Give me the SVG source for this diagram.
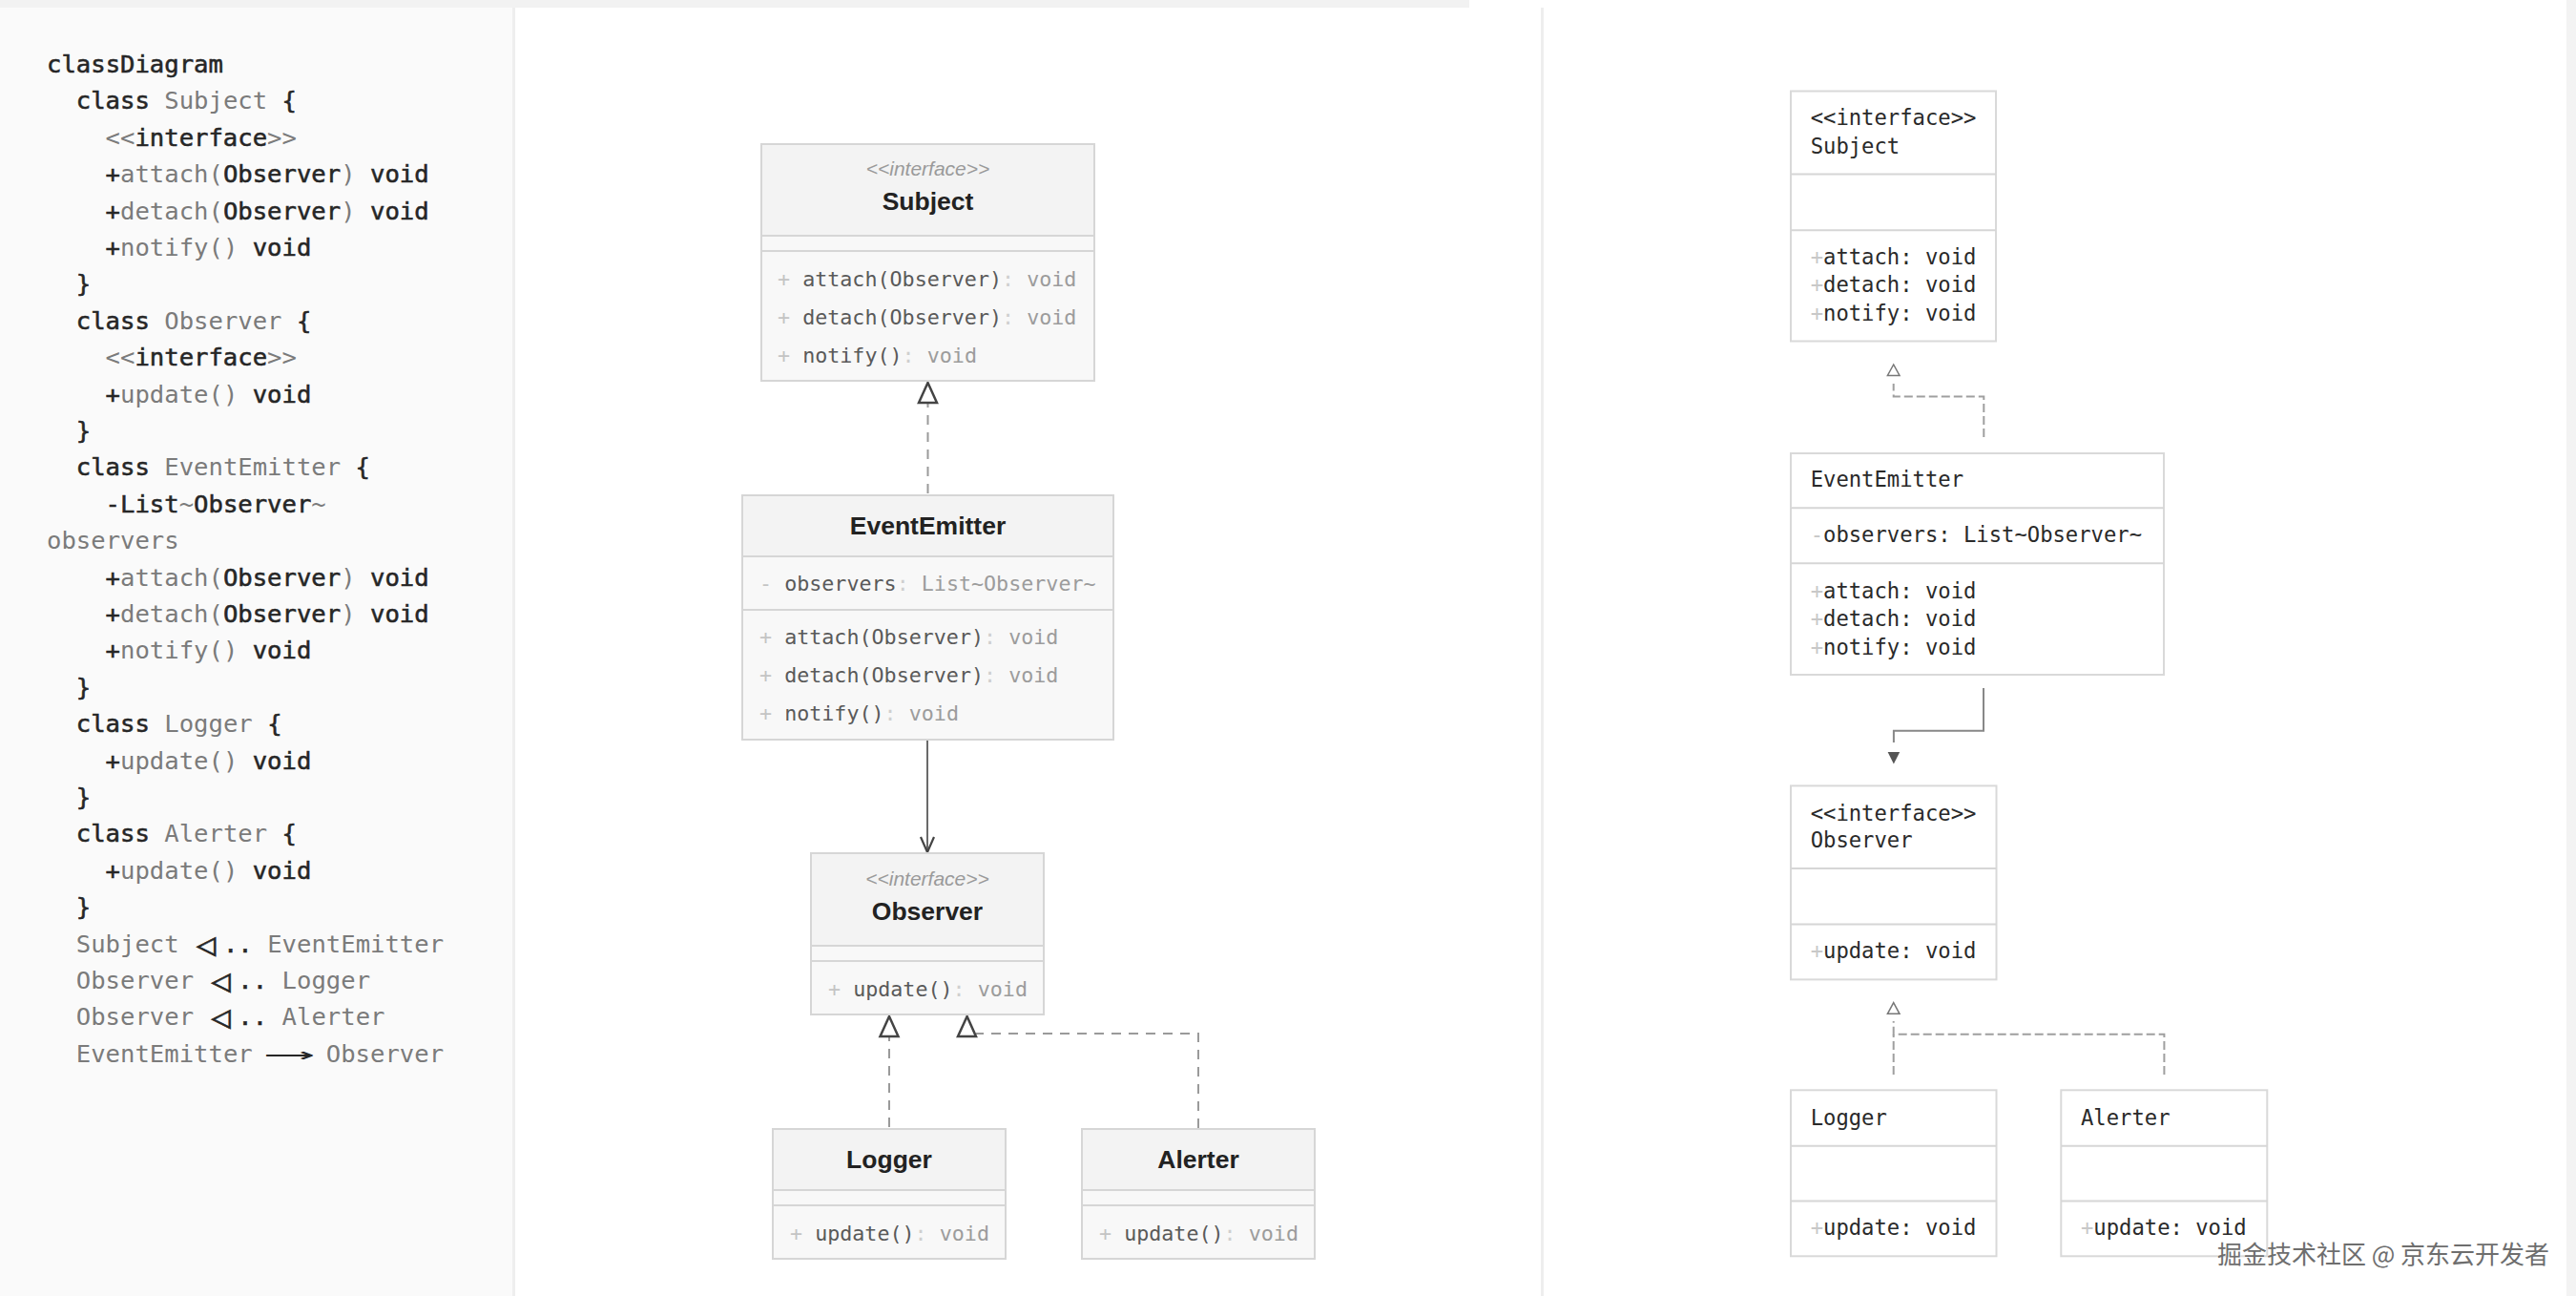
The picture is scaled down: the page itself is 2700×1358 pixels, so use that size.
<svg xmlns="http://www.w3.org/2000/svg" width="2700" height="1358" viewBox="0 0 2700 1358">
<style>
.code{font-family:"DejaVu Sans Mono","Liberation Mono",monospace;font-size:25.6px;dominant-baseline:central}
.d{fill:#262626;stroke:#262626;stroke-width:0.55px;font-weight:normal}
.g{fill:#7b7b7b;font-weight:normal}
.ar{fill:#262626;stroke:none}
.tr{font-size:34px}
.box{stroke:#d6d6d6;stroke-width:2}
.hd{fill:#f3f3f3}
.bd{fill:#f8f8f8}
.sep{stroke:#d6d6d6;stroke-width:2}
.ster{font-family:"Liberation Sans",Arial,sans-serif;font-style:italic;font-size:21px;fill:#9a9a9a;text-anchor:middle;dominant-baseline:central}
.nm{font-family:"Liberation Sans",Arial,sans-serif;font-weight:bold;font-size:26.5px;fill:#222;text-anchor:middle;dominant-baseline:central}
.mt{font-family:"DejaVu Sans Mono","Liberation Mono",monospace;font-size:21.7px;dominant-baseline:central}
.vis{fill:#c4c4c4}
.mn{fill:#5a5a5a}
.col{fill:#cfcfcf}
.ty{fill:#9c9c9c}
.rbox{fill:#fff;stroke:#d9d9d9;stroke-width:2}
.rt{font-family:"DejaVu Sans Mono","Liberation Mono",monospace;font-size:22.2px;fill:#2a2a2a;dominant-baseline:central}
.rv{fill:#c8c8c8}
.dash{fill:none;stroke:#9a9a9a;stroke-width:2;stroke-dasharray:10 8}
.rdash{fill:none;stroke:#9f9f9f;stroke-width:2;stroke-dasharray:9 4}
.tri{fill:#fff;stroke:#444;stroke-width:2.5;stroke-linejoin:miter}
.rtri{fill:#fff;stroke:#777;stroke-width:1.5}
</style>

<!-- backgrounds -->
<rect x="0" y="0" width="2700" height="1358" fill="#ffffff"/>
<rect x="0" y="0" width="1540" height="8" fill="#f2f2f2"/>
<rect x="0" y="8" width="538" height="1350" fill="#fafafa"/>
<rect x="537" y="8" width="3" height="1350" fill="#eeeeee"/>
<rect x="1615" y="8" width="3" height="1350" fill="#eeeeee"/>
<rect x="2690" y="0" width="10" height="1358" fill="#f3f3f3"/>

<!-- source code -->
<g id="code" class="code" xml:space="preserve">
<text x="49" y="67"><tspan class="d">classDiagram</tspan></text>
<text x="79.8" y="105.4"><tspan class="d">class </tspan><tspan class="g">Subject </tspan><tspan class="d">{</tspan></text>
<text x="110.6" y="143.8"><tspan class="g">&lt;&lt;</tspan><tspan class="d">interface</tspan><tspan class="g">&gt;&gt;</tspan></text>
<text x="110.6" y="182.2"><tspan class="d">+</tspan><tspan class="g">attach(</tspan><tspan class="d">Observer</tspan><tspan class="g">) </tspan><tspan class="d">void</tspan></text>
<text x="110.6" y="220.6"><tspan class="d">+</tspan><tspan class="g">detach(</tspan><tspan class="d">Observer</tspan><tspan class="g">) </tspan><tspan class="d">void</tspan></text>
<text x="110.6" y="259"><tspan class="d">+</tspan><tspan class="g">notify() </tspan><tspan class="d">void</tspan></text>
<text x="79.8" y="297.4"><tspan class="d">}</tspan></text>
<text x="79.8" y="335.8"><tspan class="d">class </tspan><tspan class="g">Observer </tspan><tspan class="d">{</tspan></text>
<text x="110.6" y="374.2"><tspan class="g">&lt;&lt;</tspan><tspan class="d">interface</tspan><tspan class="g">&gt;&gt;</tspan></text>
<text x="110.6" y="412.6"><tspan class="d">+</tspan><tspan class="g">update() </tspan><tspan class="d">void</tspan></text>
<text x="79.8" y="451"><tspan class="d">}</tspan></text>
<text x="79.8" y="489.4"><tspan class="d">class </tspan><tspan class="g">EventEmitter </tspan><tspan class="d">{</tspan></text>
<text x="110.6" y="527.8"><tspan class="d">-List</tspan><tspan class="g">~</tspan><tspan class="d">Observer</tspan><tspan class="g">~</tspan></text>
<text x="49" y="566.2"><tspan class="g">observers</tspan></text>
<text x="110.6" y="604.6"><tspan class="d">+</tspan><tspan class="g">attach(</tspan><tspan class="d">Observer</tspan><tspan class="g">) </tspan><tspan class="d">void</tspan></text>
<text x="110.6" y="643"><tspan class="d">+</tspan><tspan class="g">detach(</tspan><tspan class="d">Observer</tspan><tspan class="g">) </tspan><tspan class="d">void</tspan></text>
<text x="110.6" y="681.4"><tspan class="d">+</tspan><tspan class="g">notify() </tspan><tspan class="d">void</tspan></text>
<text x="79.8" y="719.8"><tspan class="d">}</tspan></text>
<text x="79.8" y="758.2"><tspan class="d">class </tspan><tspan class="g">Logger </tspan><tspan class="d">{</tspan></text>
<text x="110.6" y="796.6"><tspan class="d">+</tspan><tspan class="g">update() </tspan><tspan class="d">void</tspan></text>
<text x="79.8" y="835"><tspan class="d">}</tspan></text>
<text x="79.8" y="873.4"><tspan class="d">class </tspan><tspan class="g">Alerter </tspan><tspan class="d">{</tspan></text>
<text x="110.6" y="911.8"><tspan class="d">+</tspan><tspan class="g">update() </tspan><tspan class="d">void</tspan></text>
<text x="79.8" y="950.2"><tspan class="d">}</tspan></text>
<text x="79.8" y="988.6"><tspan class="g">Subject</tspan><tspan class="d tr" x="206">◁</tspan><tspan class="d" x="233.9">..</tspan><tspan class="g" x="280.2">EventEmitter</tspan></text>
<text x="79.8" y="1027"><tspan class="g">Observer</tspan><tspan class="d tr" x="221.4">◁</tspan><tspan class="d" x="249.3">..</tspan><tspan class="g" x="295.6">Logger</tspan></text>
<text x="79.8" y="1065.4"><tspan class="g">Observer</tspan><tspan class="d tr" x="221.4">◁</tspan><tspan class="d" x="249.3">..</tspan><tspan class="g" x="295.6">Alerter</tspan></text>
<text x="79.8" y="1103.8"><tspan class="g">EventEmitter</tspan><tspan class="ar" x="282" textLength="42" lengthAdjust="spacingAndGlyphs">⟶</tspan><tspan class="g" x="341.8">Observer</tspan></text>
</g>

<!-- middle diagram connectors -->
<g id="connectors-mid">
<path class="dash" d="M972.5,517 V422"/>
<polygon class="tri" points="972.5,401 963,422 982,422"/>
<path d="M972,775 V892" fill="none" stroke="#6a6a6a" stroke-width="2"/>
<polyline points="965,877 972,893 979,877" fill="none" stroke="#444" stroke-width="2.2"/>
<path class="dash" d="M932,1181 V1086"/>
<polygon class="tri" points="932,1065 922.5,1086 941.5,1086"/>
<path class="dash" d="M1256,1182 V1083 H1023"/>
<polygon class="tri" points="1013.6,1065 1004,1086 1023,1086"/>
</g>

<!-- middle diagram nodes -->
<g id="m-subject">
<rect class="box bd" x="798" y="151" width="349" height="248"/>
<rect class="hd" x="799" y="152" width="347" height="95"/>
<line class="sep" x1="798" y1="247" x2="1147" y2="247"/>
<line class="sep" x1="798" y1="263" x2="1147" y2="263"/>
<text class="ster" x="972.5" y="176">&lt;&lt;interface&gt;&gt;</text>
<text class="nm" x="972.5" y="211">Subject</text>
<text class="mt" x="815" y="292" xml:space="preserve"><tspan class="vis">+ </tspan><tspan class="mn">attach(Observer)</tspan><tspan class="col">: </tspan><tspan class="ty">void</tspan></text>
<text class="mt" x="815" y="332" xml:space="preserve"><tspan class="vis">+ </tspan><tspan class="mn">detach(Observer)</tspan><tspan class="col">: </tspan><tspan class="ty">void</tspan></text>
<text class="mt" x="815" y="372" xml:space="preserve"><tspan class="vis">+ </tspan><tspan class="mn">notify()</tspan><tspan class="col">: </tspan><tspan class="ty">void</tspan></text>
</g>

<g id="m-eventemitter">
<rect class="box bd" x="778" y="519" width="389" height="256"/>
<rect class="hd" x="779" y="520" width="387" height="63"/>
<line class="sep" x1="778" y1="583" x2="1167" y2="583"/>
<line class="sep" x1="778" y1="639" x2="1167" y2="639"/>
<text class="nm" x="972.5" y="551">EventEmitter</text>
<text class="mt" x="796" y="611" xml:space="preserve"><tspan class="vis">- </tspan><tspan class="mn">observers</tspan><tspan class="col">: </tspan><tspan class="ty">List~Observer~</tspan></text>
<text class="mt" x="796" y="667" xml:space="preserve"><tspan class="vis">+ </tspan><tspan class="mn">attach(Observer)</tspan><tspan class="col">: </tspan><tspan class="ty">void</tspan></text>
<text class="mt" x="796" y="707" xml:space="preserve"><tspan class="vis">+ </tspan><tspan class="mn">detach(Observer)</tspan><tspan class="col">: </tspan><tspan class="ty">void</tspan></text>
<text class="mt" x="796" y="747" xml:space="preserve"><tspan class="vis">+ </tspan><tspan class="mn">notify()</tspan><tspan class="col">: </tspan><tspan class="ty">void</tspan></text>
</g>

<g id="m-observer">
<rect class="box bd" x="850" y="894" width="244" height="169"/>
<rect class="hd" x="851" y="895" width="242" height="96"/>
<line class="sep" x1="850" y1="991" x2="1094" y2="991"/>
<line class="sep" x1="850" y1="1007" x2="1094" y2="1007"/>
<text class="ster" x="972" y="920">&lt;&lt;interface&gt;&gt;</text>
<text class="nm" x="972" y="955">Observer</text>
<text class="mt" x="868" y="1036" xml:space="preserve"><tspan class="vis">+ </tspan><tspan class="mn">update()</tspan><tspan class="col">: </tspan><tspan class="ty">void</tspan></text>
</g>

<g id="m-logger">
<rect class="box bd" x="810" y="1183" width="244" height="136"/>
<rect class="hd" x="811" y="1184" width="242" height="63"/>
<line class="sep" x1="810" y1="1247" x2="1054" y2="1247"/>
<line class="sep" x1="810" y1="1263" x2="1054" y2="1263"/>
<text class="nm" x="932" y="1215">Logger</text>
<text class="mt" x="828" y="1292" xml:space="preserve"><tspan class="vis">+ </tspan><tspan class="mn">update()</tspan><tspan class="col">: </tspan><tspan class="ty">void</tspan></text>
</g>

<g id="m-alerter">
<rect class="box bd" x="1134" y="1183" width="244" height="136"/>
<rect class="hd" x="1135" y="1184" width="242" height="63"/>
<line class="sep" x1="1134" y1="1247" x2="1378" y2="1247"/>
<line class="sep" x1="1134" y1="1263" x2="1378" y2="1263"/>
<text class="nm" x="1256" y="1215">Alerter</text>
<text class="mt" x="1152" y="1292" xml:space="preserve"><tspan class="vis">+ </tspan><tspan class="mn">update()</tspan><tspan class="col">: </tspan><tspan class="ty">void</tspan></text>
</g>

<!-- right diagram connectors -->
<g id="connectors-right">
<path class="rdash" d="M2079.3,458 V415.5 H1984.7 V402"/>
<polygon class="rtri" points="1984.7,382 1978.4,393.5 1991,393.5"/>
<path d="M2079,721 V765.7 H1984.9 V778" fill="none" stroke="#888" stroke-width="2"/>
<polygon points="1978.6,788 1991.2,788 1984.9,800.4" fill="#555"/>
<path class="rdash" d="M1984.7,1126 V1084"/>
<path class="rdash" d="M2268.4,1126 V1083.7 H1984.7 V1070"/>
<polygon class="rtri" points="1984.7,1050.6 1978.4,1062.3 1991,1062.3"/>
</g>

<!-- right diagram nodes -->
<g id="r-subject">
<rect class="rbox" x="1877" y="95.5" width="215" height="262"/>
<line class="sep" x1="1877" y1="182.4" x2="2092" y2="182.4"/>
<line class="sep" x1="1877" y1="241.2" x2="2092" y2="241.2"/>
<text class="rt" x="1897.7" y="123">&lt;&lt;interface&gt;&gt;</text>
<text class="rt" x="1897.7" y="152.7">Subject</text>
<text class="rt" x="1897.7" y="269"><tspan class="rv">+</tspan>attach: void</text>
<text class="rt" x="1897.7" y="298.4"><tspan class="rv">+</tspan>detach: void</text>
<text class="rt" x="1897.7" y="327.8"><tspan class="rv">+</tspan>notify: void</text>
</g>

<g id="r-eventemitter">
<rect class="rbox" x="1877" y="475" width="391" height="232"/>
<line class="sep" x1="1877" y1="532.2" x2="2268" y2="532.2"/>
<line class="sep" x1="1877" y1="590.2" x2="2268" y2="590.2"/>
<text class="rt" x="1897.7" y="502.4">EventEmitter</text>
<text class="rt" x="1897.7" y="560.4"><tspan class="rv">-</tspan>observers: List~Observer~</text>
<text class="rt" x="1897.7" y="618.8"><tspan class="rv">+</tspan>attach: void</text>
<text class="rt" x="1897.7" y="648.2"><tspan class="rv">+</tspan>detach: void</text>
<text class="rt" x="1897.7" y="677.6"><tspan class="rv">+</tspan>notify: void</text>
</g>

<g id="r-observer">
<rect class="rbox" x="1877" y="823.4" width="215.5" height="203"/>
<line class="sep" x1="1877" y1="910" x2="2092.5" y2="910"/>
<line class="sep" x1="1877" y1="968.6" x2="2092.5" y2="968.6"/>
<text class="rt" x="1897.7" y="851.5">&lt;&lt;interface&gt;&gt;</text>
<text class="rt" x="1897.7" y="880">Observer</text>
<text class="rt" x="1897.7" y="996.2"><tspan class="rv">+</tspan>update: void</text>
</g>

<g id="r-logger">
<rect class="rbox" x="1877" y="1142.3" width="215.5" height="174"/>
<line class="sep" x1="1877" y1="1200.8" x2="2092.5" y2="1200.8"/>
<line class="sep" x1="1877" y1="1258.6" x2="2092.5" y2="1258.6"/>
<text class="rt" x="1897.7" y="1170.7">Logger</text>
<text class="rt" x="1897.7" y="1285.8"><tspan class="rv">+</tspan>update: void</text>
</g>

<g id="r-alerter">
<rect class="rbox" x="2160.3" y="1142.3" width="216" height="174"/>
<line class="sep" x1="2160.3" y1="1200.8" x2="2376.3" y2="1200.8"/>
<line class="sep" x1="2160.3" y1="1258.6" x2="2376.3" y2="1258.6"/>
<text class="rt" x="2181" y="1170.7">Alerter</text>
<text class="rt" x="2181" y="1285.8"><tspan class="rv">+</tspan>update: void</text>
</g>

<!-- watermark -->
<text x="2498" y="1312" text-anchor="middle" dominant-baseline="central" font-family="'Noto Sans CJK SC','Noto Sans',sans-serif" font-size="26" fill="#6e6e6e" stroke="#ffffff" stroke-width="0.6" paint-order="stroke">掘金技术社区 @ 京东云开发者</text>
</svg>
